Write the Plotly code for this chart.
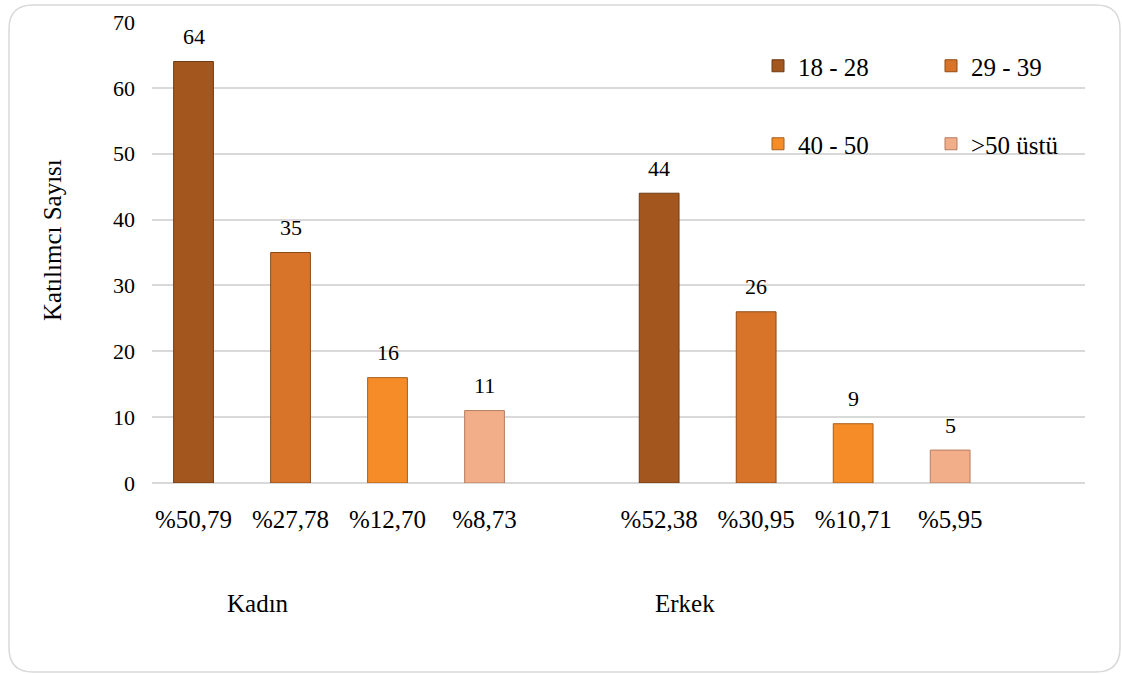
import plotly.graph_objects as go

# ---- data ----
groups = ["Kadın", "Erkek"]
age_groups = ["18 - 28", "29 - 39", "40 - 50", ">50 üstü"]
kadin_counts = [64, 35, 16, 11]
erkek_counts = [44, 26, 9, 5]
kadin_pct = ["%50,79", "%27,78", "%12,70", "%8,73"]
erkek_pct = ["%52,38", "%30,95", "%10,71", "%5,95"]

colors = ["#A3561E", "#D8742A", "#F58C28", "#F2AD89"]
line_colors = ["#6E3A14", "#8E4A16", "#A85E1A", "#B57E62"]

FONT = "Liberation Serif"
GROUP_GAP = 1.8  # spacing between group blocks (layout)

# positions of bars on a numeric axis (layout only)
pos_k = [i for i in range(len(age_groups))]
pos_e = [len(age_groups) - 1 + GROUP_GAP + i for i in range(len(age_groups))]

fig = go.Figure()
for i, ag in enumerate(age_groups):
    fig.add_trace(go.Bar(
        x=[pos_k[i], pos_e[i]],
        y=[kadin_counts[i], erkek_counts[i]],
        name=ag,
        width=0.41,
        marker=dict(color=colors[i], line=dict(color=line_colors[i], width=1)),
        legend="legend" if i < 2 else "legend2",
        hoverinfo="skip",
    ))

annotations = []
for xs, ys in ((pos_k, kadin_counts), (pos_e, erkek_counts)):
    for x, y in zip(xs, ys):
        annotations.append(dict(x=x, y=y, text=str(y), showarrow=False,
                                yshift=25, font=dict(family=FONT, size=22, color="#000")))

# group labels
PL, PR, PT, PB = 152, 1085, 22, 483
W, H = PR - PL, PB - PT
def px(x):
    return (x - PL) / W
def py(y):
    return (PB - y) / H

for g, gx in zip(groups, (258, 685)):
    annotations.append(dict(x=px(gx), y=py(603), xref="paper", yref="paper",
                            xanchor="center", yanchor="middle",
                            text=g, showarrow=False, font=dict(family=FONT, size=25, color="#000")))
annotations.append(dict(x=px(52), y=py(240), xref="paper", yref="paper",
                        xanchor="center", yanchor="middle",
                        text="Katılımcı Sayısı", textangle=-90, showarrow=False,
                        font=dict(family=FONT, size=25, color="#000")))

# rounded border
x0, x1, y0, y1, r = 9, 1120, 5, 672, 24
rx, ry = r / W, r / H
X0, X1, Y0, Y1 = px(x0), px(x1), py(y1), py(y0)
path = (f"M{X0+rx},{Y1} L{X1-rx},{Y1} Q{X1},{Y1} {X1},{Y1-ry} "
        f"L{X1},{Y0+ry} Q{X1},{Y0} {X1-rx},{Y0} L{X0+rx},{Y0} "
        f"Q{X0},{Y0} {X0},{Y0+ry} L{X0},{Y1-ry} Q{X0},{Y1} {X0+rx},{Y1} Z")

legend_common = dict(orientation="h", xanchor="left", yanchor="middle",
                     entrywidth=128, entrywidthmode="pixels",
                     font=dict(family=FONT, size=25, color="#000"),
                     bgcolor="rgba(0,0,0,0)", itemclick=False, itemdoubleclick=False)

fig.update_layout(
    width=1122, height=675,
    margin=dict(l=PL, r=1122 - PR, t=PT, b=675 - PB, autoexpand=False),
    paper_bgcolor="white", plot_bgcolor="white",
    font=dict(family=FONT, size=22, color="#000"),
    barmode="overlay",
    showlegend=True,
    legend=dict(x=px(758), y=py(66), **legend_common),
    legend2=dict(x=px(758), y=py(144), **legend_common),
    xaxis=dict(range=[-0.428, 9.19], tickvals=pos_k + pos_e, ticktext=kadin_pct + erkek_pct,
               showgrid=False, zeroline=False, showline=False, ticks="",
               ticklabelstandoff=19, tickfont=dict(family=FONT, size=25)),
    yaxis=dict(range=[0, 70], dtick=10, showgrid=True, gridcolor="#D9D9D9", gridwidth=1.5,
               zeroline=True, zerolinecolor="#D9D9D9", zerolinewidth=1.5,
               ticks="", ticklabelstandoff=16, tickfont=dict(family=FONT, size=22)),
    annotations=annotations,
    shapes=[dict(type="path", path=path, xref="paper", yref="paper",
                 line=dict(color="#D9D9D9", width=1.5), layer="below")],
)

fig.write_html("out.html", config={"displayModeBar": False},
               post_script="document.body.style.margin='0';")
